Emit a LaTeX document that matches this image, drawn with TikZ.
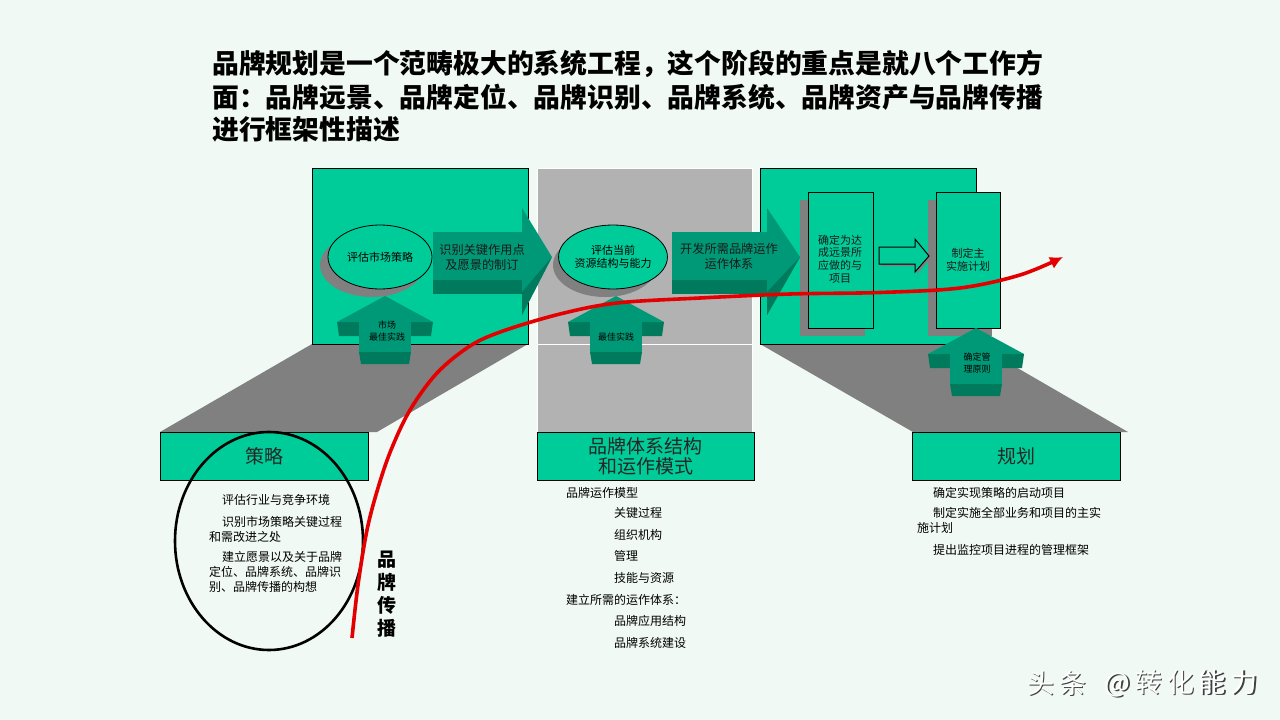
\documentclass[tikz,border=0pt]{standalone}
\usepackage{fontspec}
\setmainfont{Noto Sans CJK SC}
\newfontfamily\wmfont{Noto Sans CJK SC}[LetterSpace=18]
\usetikzlibrary{arrows.meta,shapes.geometric}
\definecolor{bg}{RGB}{240,249,244}
\definecolor{pgreen}{RGB}{0,204,153}
\definecolor{aface}{RGB}{0,153,119}
\definecolor{adark}{RGB}{0,122,92}
\definecolor{shadegray}{RGB}{128,128,128}
\definecolor{pgray}{RGB}{178,178,178}
\definecolor{redc}{RGB}{228,0,0}
\tikzset{
  panel/.style={fill=pgreen, draw=black, line width=0.8pt},
  greenbox/.style={fill=pgreen, draw=black, line width=0.8pt, inner sep=0pt, align=center, text=black!85,
    font=\fontsize{19}{20}\selectfont},
  ovalnode/.style={ellipse, fill=pgreen, draw=black, line width=0.8pt, inner sep=0pt,
    minimum width=104pt, minimum height=64pt, align=center, font=\fontsize{11}{13}\selectfont},
  bodytext/.style={inner sep=0pt, anchor=west, font=\fontsize{12}{15}\selectfont, text=black},
  arrowtext/.style={inner sep=0pt, align=center, font=\fontsize{12.2}{15}\selectfont, text=black!90},
  smalltext/.style={inner sep=0pt, align=center, font=\fontsize{9}{11.5}\selectfont, text=black},
  boxtext/.style={inner sep=0pt, align=center, font=\fontsize{11}{12.8}\selectfont, text=black!90},
  titletext/.style={inner sep=0pt, anchor=west, font=\fontsize{26.8}{32}\selectfont\bfseries, text=black},
  wmtext/.style={inner sep=0pt, font=\fontsize{27}{30}\wmfont},
  uparr/.pic={
    \fill[adark] (-48,26) -- (48,26) -- (46,40) -- (-46,40) -- cycle;
    \fill[aface] (0,0) -- (48,26) -- (-48,26) -- cycle;
    \fill[aface] (-26,25.5) rectangle (26,56);
    \fill[adark] (-26,56) -- (26,56) -- (24,68) -- (-24,68) -- cycle;
  }
}
\newcommand\blockarrowR[3]{%
  \fill[adark] (#1,280) rectangle (#2,294);
  \fill[aface] (#1,232) rectangle (#2,280);
  \fill[aface] (#2,208) -- (#3,257) -- (#2,315) -- cycle;
  \fill[adark] (#2,292) -- (#3,257) -- (#2,315) -- cycle;
}
\begin{document}
\begin{tikzpicture}[x=1pt,y=-1pt]
\fill[bg] (0,0) rectangle (1280,720);
\useasboundingbox (0,0) rectangle (1280,720);

% title
\node[titletext] (t1) at (212,64) {品牌规划是一个范畴极大的系统工程，这个阶段的重点是就八个工作方};
\node[titletext] (t2) at (212,97) {面：品牌远景、品牌定位、品牌识别、品牌系统、品牌资产与品牌传播};
\node[titletext] (t3) at (212,129) {进行框架性描述};

% shadows of panels
\fill[shadegray] (312,344) -- (528,344) -- (377,432) -- (160,432) -- cycle;
\fill[shadegray] (760,344) -- (976,344) -- (1128,432) -- (913,432) -- cycle;

% panels
\draw[panel] (312,168) rectangle (528,344);
\fill[pgray] (537,168) rectangle (752,432);
\draw[white, line width=0.8pt] (537,168) rectangle (752,432);
\draw[white, line width=1pt] (537,344) -- (752,344);
\draw[panel] (760,168) rectangle (976,344);

% inner boxes of right panel
\fill[shadegray] (800,200) rectangle (865,336);
\fill[shadegray] (928,200) rectangle (992,336);
\node[panel, minimum width=65pt, minimum height=136pt, inner sep=0pt, anchor=north west] (b1) at (808,192) {};
\node[panel, minimum width=64pt, minimum height=136pt, inner sep=0pt, anchor=north west] (b2) at (936,192) {};
\node[boxtext] (b1t) at (840,259) {确定为达\\成远景所\\应做的与\\项目};
\node[boxtext] (b2t) at (968,259.5) {制定主\\实施计划};

% hollow arrow
\fill[shadegray] (881,249) -- (917,249) -- (917,241) -- (931,258) -- (917,274) -- (917,266) -- (881,266) -- cycle;
\draw[fill=pgreen, line width=1pt] (879,247) -- (915,247) -- (915,239) -- (929,256) -- (915,272) -- (915,264) -- (879,264) -- cycle;

% ellipses
\fill[shadegray] (372,265) ellipse [x radius=52, y radius=32];
\node[ovalnode] (e1) at (380,257) {评估市场策略};
\fill[shadegray] (605,265) ellipse [x radius=52, y radius=32];
\node[ovalnode] (e2) at (613,257) {评估当前\\资源结构与能力};

% block arrows
\blockarrowR{433}{522}{552}
\node[arrowtext] (a1t) at (482,257) {识别关键作用点\\及愿景的制订};
\blockarrowR{672}{767}{800}
\node[arrowtext] (a2t) at (729,256) {开发所需品牌运作\\运作体系};

% up arrows
\pic (u1) at (385,296) {uparr};
\node[smalltext] (u1t) at (387,331) {市场\\最佳实践};
\pic (u2) at (616,296) {uparr};
\node[smalltext] (u2t) at (616,337) {最佳实践};
\pic (u3) at (976,328) {uparr};
\node[smalltext] (u3t) at (977,363) {确定管\\理原则};

% bottom boxes
\node[greenbox, minimum width=208pt, minimum height=48pt, anchor=north west] (s1) at (160,432) {策略};
\node[greenbox, minimum width=217pt, minimum height=48pt, anchor=north west] (s2) at (537,432) {品牌体系结构\\和运作模式};
\node[greenbox, minimum width=208pt, minimum height=48pt, anchor=north west] (s3) at (912,432) {规划};

% big ellipse
\draw[line width=2.6pt] (269,541) ellipse [x radius=94, y radius=109];

% texts under boxes
\node[bodytext] (l1) at (222,500) {评估行业与竞争环境};
\node[bodytext] (l2) at (222,522) {识别市场策略关键过程};
\node[bodytext] (l3) at (209,537) {和需改进之处};
\node[bodytext] (l4) at (222,557) {建立愿景以及关于品牌};
\node[bodytext] (l5) at (209,572) {定位、品牌系统、品牌识};
\node[bodytext] (l6) at (209,587) {别、品牌传播的构想};

\node[bodytext] (m1) at (566,493) {品牌运作模型};
\node[bodytext] (m2) at (614,513) {关键过程};
\node[bodytext] (m3) at (614,535) {组织机构};
\node[bodytext] (m4) at (614,556) {管理};
\node[bodytext] (m5) at (614,578) {技能与资源};
\node[bodytext] (m6) at (566,600) {建立所需的运作体系：};
\node[bodytext] (m7) at (614,621) {品牌应用结构};
\node[bodytext] (m8) at (614,643) {品牌系统建设};

\node[bodytext] (r1) at (933,493) {确定实现策略的启动项目};
\node[bodytext] (r2) at (933,513) {制定实施全部业务和项目的主实};
\node[bodytext] (r3) at (917,528) {施计划};
\node[bodytext] (r4) at (933,550) {提出监控项目进程的管理框架};

% red curve
\coordinate (c0) at (352,638);
\coordinate (c1) at (1063,257);
\draw[redc, line width=3.6pt, -{Latex[length=13pt,width=13pt]}] plot[smooth, tension=0.55] coordinates {
 (c0) (358,585) (367,530) (378,488) (391,450) (410,410) (437,373) (470,346) (503,331) (560,314) (617,303) (700,298) (790,294) (880,292.5) (960,288) (1020,275) (c1)};

% vertical label
\node[inner sep=0pt, align=center, font=\fontsize{19}{23}\selectfont\bfseries] (v1) at (387,594) {品\\牌\\传\\播};

% watermark
\node[wmtext, anchor=west, text=black!75] (w1s) at (1028.5,684.5) {头条};
\node[wmtext, anchor=west, text=white] (w1) at (1027,683) {头条};
\node[wmtext, anchor=east, text=black!75] (w2s) at (1259.5,684.5) {@转化能力};
\node[wmtext, anchor=east, text=white] (w2) at (1258,683) {@转化能力};
\end{tikzpicture}
\end{document}
